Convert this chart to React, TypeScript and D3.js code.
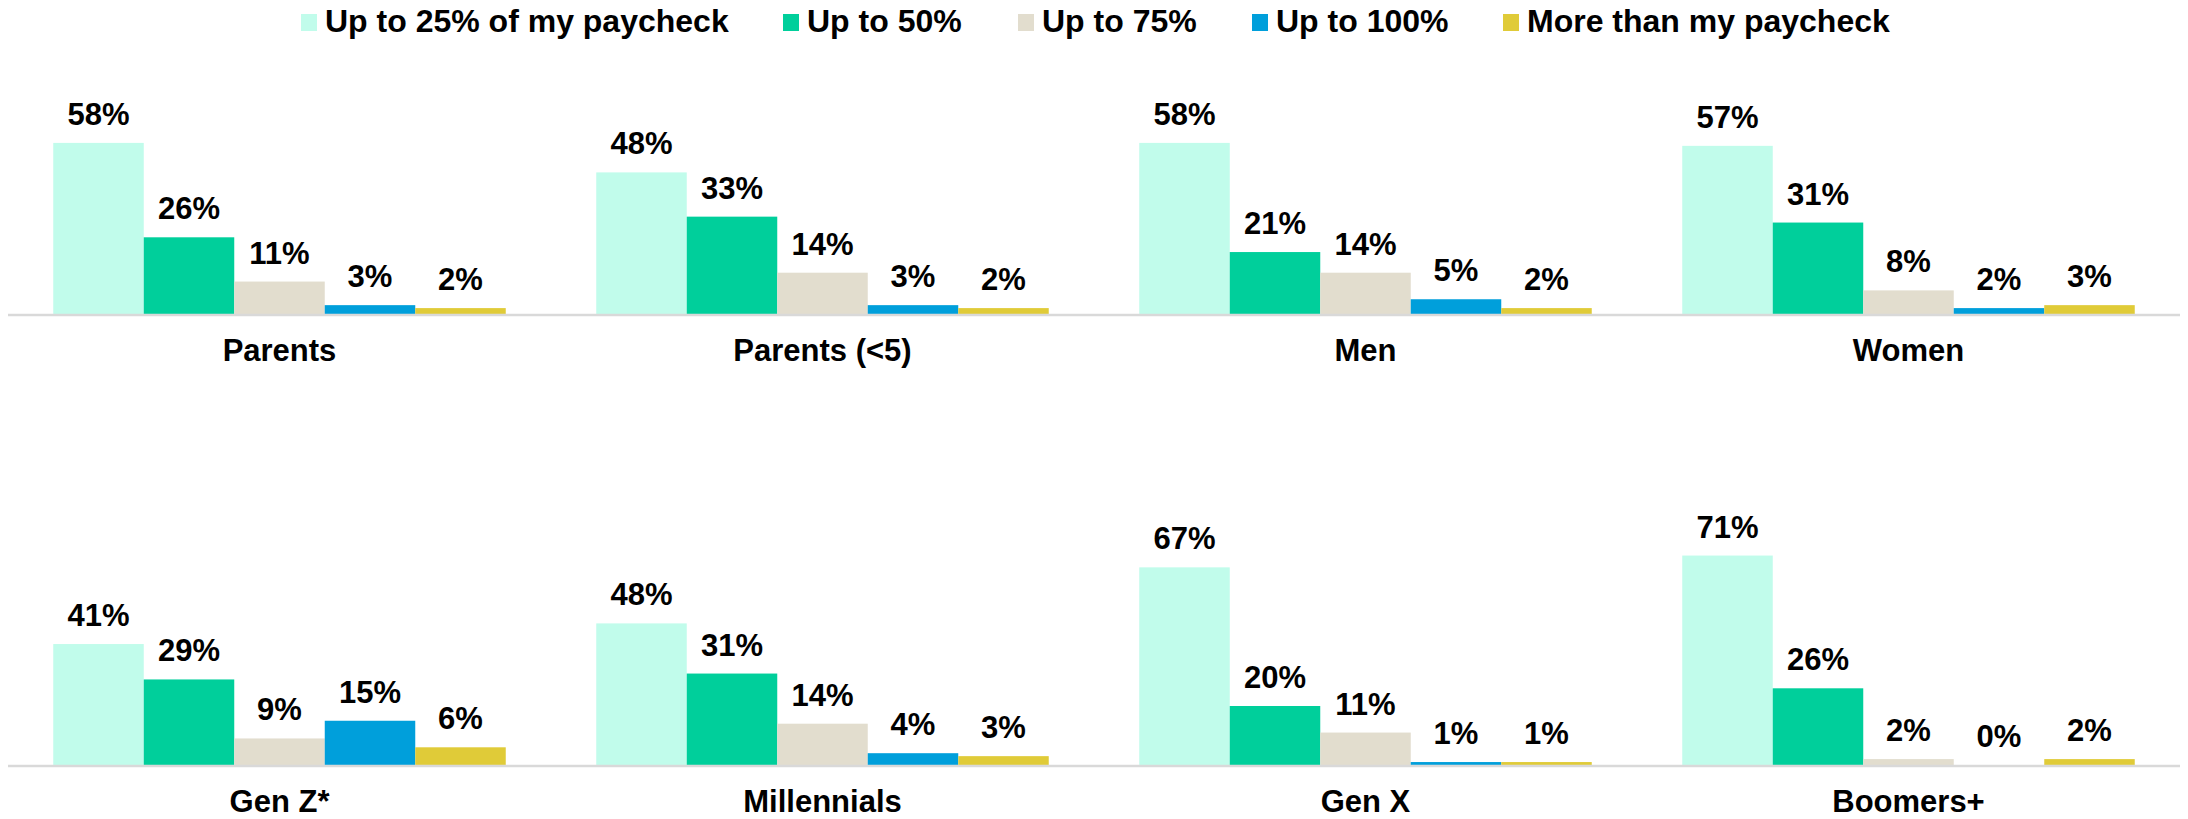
import React from "react";
import * as d3 from "d3";

const seriesNames = ["Up to 25% of my paycheck", "Up to 50%", "Up to 75%", "Up to 100%", "More than my paycheck"];
const seriesColors = ["#C1FCEB", "#00CF9B", "#E2DDCE", "#009FDB", "#E0CB38"];

const rowOneCategories = ["Parents", "Parents (<5)", "Men", "Women"];
const rowTwoCategories = ["Gen Z*", "Millennials", "Gen X", "Boomers+"];

const parents = [58, 26, 11, 3, 2];
const parentsUnder5 = [48, 33, 14, 3, 2];
const men = [58, 21, 14, 5, 2];
const women = [57, 31, 8, 2, 3];
const genZ = [41, 29, 9, 15, 6];
const millennials = [48, 31, 14, 4, 3];
const genX = [67, 20, 11, 1, 1];
const boomers = [71, 26, 2, 0, 2];

const rowOneValues = [parents, parentsUnder5, men, women];
const rowTwoValues = [genZ, millennials, genX, boomers];

const W = 2188;
const H = 819;
const FONT = "'Liberation Sans', Arial, sans-serif";

const legendX = [301, 783, 1018, 1252, 1503];

function Row({ cats, values, baseline }: { cats: string[]; values: number[][]; baseline: number }) {
  const x0 = d3.scaleBand<string>().domain(cats).range([8, 2180]).paddingInner(0).paddingOuter(0);
  const x1 = d3
    .scaleBand<string>()
    .domain(seriesNames)
    .range([0, x0.bandwidth()])
    .paddingInner(0)
    .paddingOuter(0.5);
  const y = d3.scaleLinear().domain([0, 100]).range([baseline, baseline - 295]);
  return (
    <g>
      {cats.map((c, ci) => (
        <g key={c} transform={`translate(${x0(c)},0)`}>
          {values[ci].map((v, si) => {
            const bx = x1(seriesNames[si]) as number;
            const top = y(v);
            return (
              <g key={si}>
                <rect x={bx} y={top} width={x1.bandwidth()} height={baseline - top} fill={seriesColors[si]} />
                <text
                  x={bx + x1.bandwidth() / 2}
                  y={top - 18}
                  textAnchor="middle"
                  fontFamily={FONT}
                  fontWeight="bold"
                  fontSize={31}
                  fill="#000"
                >
                  {v}%
                </text>
              </g>
            );
          })}
          <text
            x={x0.bandwidth() / 2}
            y={baseline + 47}
            textAnchor="middle"
            fontFamily={FONT}
            fontWeight="bold"
            fontSize={31}
            fill="#000"
          >
            {c}
          </text>
        </g>
      ))}
      <line x1={8} x2={2180} y1={baseline + 1} y2={baseline + 1} stroke="#D9D9D9" strokeWidth={2.5} />
    </g>
  );
}

export default function App() {
  return (
    <svg
      width={W}
      height={H}
      viewBox={`0 0 ${W} ${H}`}
      style={{ position: "absolute", left: 0, top: 0, background: "#fff" }}
    >
      <rect width={W} height={H} fill="#fff" />
      <g>
        {seriesNames.map((s, i) => (
          <g key={s}>
            <rect x={legendX[i]} y={14} width={16} height={17} fill={seriesColors[i]} />
            <text
              x={legendX[i] + 24}
              y={32}
              fontFamily={FONT}
              fontWeight="bold"
              fontSize={32}
              fill="#000"
            >
              {s}
            </text>
          </g>
        ))}
      </g>
      <Row cats={rowOneCategories} values={rowOneValues} baseline={314} />
      <Row cats={rowTwoCategories} values={rowTwoValues} baseline={765} />
    </svg>
  );
}
